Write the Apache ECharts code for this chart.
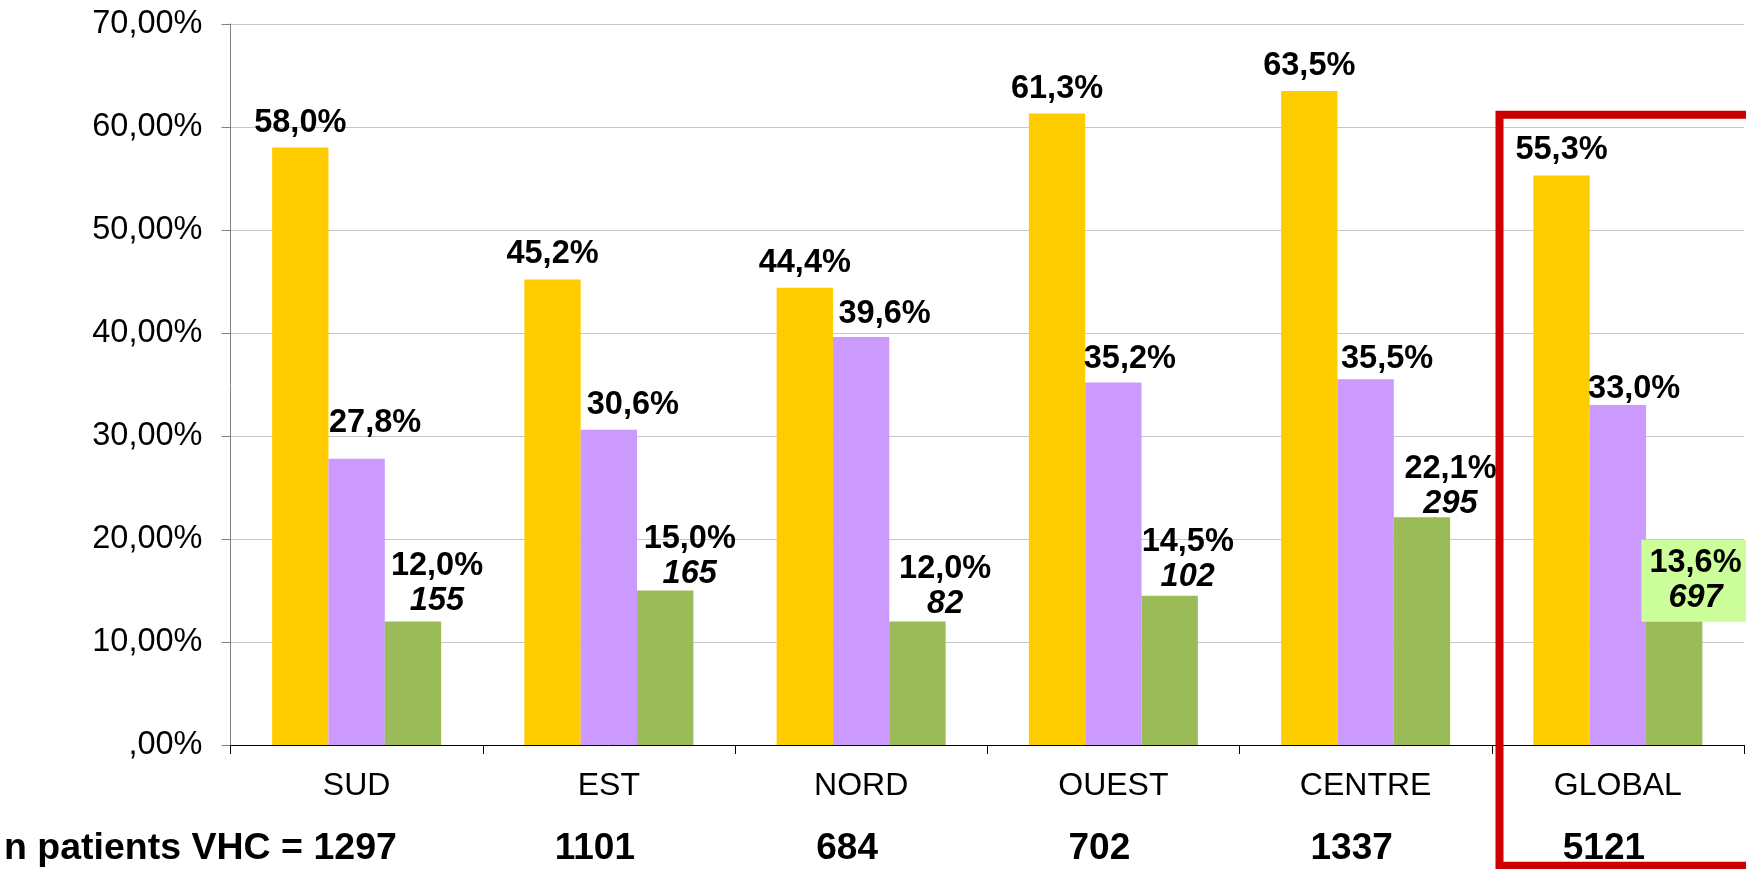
<!DOCTYPE html>
<html>
<head>
<meta charset="utf-8">
<script src="https://cdn.jsdelivr.net/npm/echarts@6/dist/echarts.min.js"></script>
<style>
  html, body { margin: 0; padding: 0; background: #ffffff; }
  #chart { width: 1746px; height: 869px; }
</style>
</head>
<body>
<div id="chart"></div>
<script>
// ---- data ----
const categories = ['SUD', 'EST', 'NORD', 'OUEST', 'CENTRE', 'GLOBAL'];
const pctYellow = [58.0, 45.2, 44.4, 61.3, 63.5, 55.3];
const pctPurple = [27.8, 30.6, 39.6, 35.2, 35.5, 33.0];
const pctGreen = [12.0, 15.0, 12.0, 14.5, 22.1, 13.6];
const countGreen = [155, 165, 82, 102, 295, 697];
const nPatients = [1297, 1101, 684, 702, 1337, 5121];
const nPatientsPrefix = 'n patients VHC = ';
const yMin = 0, yMax = 70, yStep = 10;

// ---- style (label nudges, in px) ----
const FONT = '"Liberation Sans", Arial, Helvetica, sans-serif';
const purpleLabelOffset = [[18.5, -10.4], [24, 0], [23.5, 2], [16.5, 1.6], [21.5, 4.3], [16.3, 9.2]];
const greenLabelOffset = [[24, 4.3], [24.5, 9.0], [27.7, 7.7], [18, 6.4], [28.5, 11.4], [21.3, 24.3]];
const highlightIndex = 5;

const fmtPct = v => v.toFixed(1).replace('.', ',') + '%';
const fmtAxis = v => (v === 0 ? ',00%' : v.toFixed(2).replace('.', ',') + '%');

const LABEL_FS = 32.5;
const labelBase = {
  show: true, position: 'top', distance: 7.5, color: '#000',
  fontFamily: FONT, fontSize: LABEL_FS, fontWeight: 'bold', lineHeight: 35
};

const chart = echarts.init(document.getElementById('chart'), null, { renderer: 'canvas' });

const option = {
  animation: false,
  backgroundColor: '#ffffff',
  grid: { left: 230.5, right: 2, top: 24, bottom: 124, containLabel: false, outerBoundsMode: 'none' },
  xAxis: [
    {
      type: 'category', data: categories, position: 'bottom',
      axisLine: { show: true, lineStyle: { color: '#000', width: 1 } },
      axisTick: { show: true, length: 9, lineStyle: { color: '#000', width: 1 } },
      axisLabel: { color: '#000', fontFamily: FONT, fontSize: 32, margin: 25 },
      splitLine: { show: false }
    },
    {
      type: 'category', data: nPatients, position: 'bottom', offset: 0,
      axisLine: { show: false }, axisTick: { show: false }, splitLine: { show: false },
      axisLabel: {
        margin: 85,
        formatter: (v, i) => (i === 0 ? '' : '{n|' + v + '}'),
        rich: { n: { color: '#000', fontFamily: FONT, fontSize: 37, fontWeight: 'bold', padding: [0, 28, 0, 0] } }
      }
    }
  ],
  yAxis: {
    type: 'value', min: yMin, max: yMax, interval: yStep,
    axisLine: { show: true, lineStyle: { color: '#808080', width: 1 } },
    axisTick: { show: true, length: 9, lineStyle: { color: '#808080', width: 1 } },
    axisLabel: { color: '#000', fontFamily: FONT, fontSize: 32.5, margin: 28, formatter: fmtAxis },
    splitLine: { show: true, lineStyle: { color: '#C6C6C6', width: 1 } }
  },
  series: [
    {
      type: 'bar', name: 'g1', xAxisIndex: 0, barGap: '0%', barCategoryGap: '33%',
      itemStyle: { color: '#FFCC00' },
      label: Object.assign({}, labelBase, { formatter: p => fmtPct(p.value) }),
      data: pctYellow
    },
    {
      type: 'bar', name: 'g2', xAxisIndex: 0, barGap: '0%', barCategoryGap: '33%',
      itemStyle: { color: '#CC99FF' },
      label: Object.assign({}, labelBase, { formatter: p => fmtPct(p.value) }),
      data: pctPurple.map((v, i) => ({ value: v, label: { offset: purpleLabelOffset[i] } }))
    },
    {
      type: 'bar', name: 'g3', xAxisIndex: 0, barGap: '0%', barCategoryGap: '33%',
      itemStyle: { color: '#9BBB59' },
      label: Object.assign({}, labelBase, {
        formatter: p => '{v|' + fmtPct(p.value) + '}\n{c|' + countGreen[p.dataIndex] + '}',
        rich: {
          v: { color: '#000', fontFamily: FONT, fontSize: LABEL_FS, fontWeight: 'bold', lineHeight: 35 },
          c: { color: '#000', fontFamily: FONT, fontSize: LABEL_FS, fontWeight: 'bold', fontStyle: 'italic', lineHeight: 35 }
        }
      }),
      data: pctGreen.map((v, i) => {
        const lab = { offset: greenLabelOffset[i] };
        if (i === highlightIndex) {
          lab.backgroundColor = '#CCFF99';
          lab.padding = [6, 8, 6, 8];
        }
        return { value: v, label: lab };
      })
    }
  ],
  graphic: [
    {
      type: 'text', left: 4, top: 830, z: 10,
      style: {
        text: nPatientsPrefix + nPatients[0],
        font: 'bold 37.5px ' + FONT, fill: '#000'
      }
    },
    {
      type: 'rect', z: 20, silent: true,
      shape: { x: 1499.5, y: 114.7, width: 400, height: 751 },
      style: { fill: 'none', stroke: '#CC0000', lineWidth: 8 }
    }
  ]
};

chart.setOption(option);
</script>
</body>
</html>
